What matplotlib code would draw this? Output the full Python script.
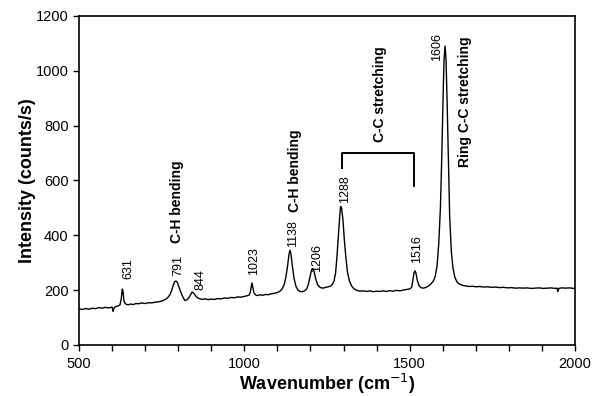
"""Raman spectrum with labelled bands (recreated figure)."""

import matplotlib
matplotlib.use("Agg")
import matplotlib.pyplot as plt
from matplotlib.ticker import MultipleLocator

plt.rcParams["font.family"] = ["Liberation Sans", "DejaVu Sans"]

# spectrum, as (wavenumber cm-1, intensity counts/s)
SEG_LOW = [
    (500, 132), (510, 129), (520, 133), (530, 130), (540, 134), (550, 132),
    (560, 136), (570, 134), (580, 137), (590, 135), (600, 138), (603, 122),
    (607, 137), (612, 140), (618, 142), (624, 146), (628, 170), (631, 204),
    (633, 196), (636, 160), (640, 150), (648, 146), (656, 149), (664, 147),
    (672, 151), (680, 150), (690, 153), (700, 151), (710, 154), (720, 153),
    (730, 156), (740, 157), (750, 160), (760, 165), (768, 172), (775, 183),
    (780, 198), (785, 218), (789, 230), (793, 233), (797, 229), (802, 212),
    (808, 192), (814, 175), (820, 162), (826, 164), (832, 172), (838, 184),
    (842, 193), (846, 190), (852, 180), (858, 172), (866, 168), (874, 166),
    (881, 168), (890, 165),
]
SEG_MID = [
    (900, 167), (910, 166), (920, 169), (930, 168), (940, 171), (950, 170),
    (960, 173), (970, 172), (980, 175), (990, 174), (1000, 177), (1008, 179),
    (1014, 181), (1018, 192), (1021, 212), (1023, 226), (1026, 208),
    (1029, 190), (1034, 182), (1040, 180), (1048, 183), (1056, 181),
    (1064, 184), (1072, 183), (1080, 186), (1090, 188), (1100, 191),
    (1108, 196), (1115, 205), (1121, 222), (1126, 250), (1131, 290),
    (1135, 330), (1138, 345), (1141, 332), (1145, 290), (1150, 245),
    (1156, 214), (1162, 200), (1168, 195), (1175, 194), (1182, 197),
    (1188, 203), (1193, 218), (1198, 245), (1203, 272), (1207, 279),
    (1211, 268), (1216, 240), (1222, 218), (1230, 209), (1238, 207),
    (1246, 210), (1254, 212), (1260, 214), (1266, 220), (1271, 232),
    (1276, 262), (1280, 320), (1284, 390), (1288, 460), (1291, 505),
    (1294, 500), (1298, 460), (1302, 390), (1307, 320), (1312, 265),
    (1318, 232), (1325, 214), (1332, 204),
]
SEG_HIGH = [
    (1340, 199), (1350, 196), (1360, 197), (1370, 195), (1380, 197),
    (1390, 194), (1400, 196), (1410, 195), (1420, 197), (1430, 195),
    (1440, 198), (1450, 196), (1460, 199), (1470, 197), (1480, 200),
    (1490, 202), (1500, 204), (1506, 210), (1510, 238), (1513, 262),
    (1516, 270), (1519, 262), (1523, 236), (1528, 217), (1534, 209),
    (1540, 207), (1548, 209), (1556, 214), (1564, 222), (1571, 232),
    (1577, 248), (1583, 290), (1588, 370), (1593, 500), (1597, 680),
    (1601, 900), (1604, 1040), (1607, 1090), (1610, 1040), (1613, 900),
    (1617, 680), (1621, 470), (1626, 340), (1631, 280), (1637, 245),
    (1644, 228), (1652, 221), (1660, 217), (1670, 215), (1680, 213),
    (1690, 214), (1700, 212), (1712, 213), (1724, 211), (1736, 212),
    (1748, 210), (1760, 211), (1772, 209), (1784, 210), (1796, 208),
    (1808, 209), (1820, 207), (1832, 208), (1844, 207), (1856, 208),
    (1868, 206), (1880, 207), (1892, 208), (1904, 206), (1916, 207),
    (1928, 208), (1940, 206), (1946, 207), (1948, 194), (1951, 206),
    (1960, 208), (1972, 207), (1984, 208), (1996, 206), (2000, 207),
]

PEAK_LABELS = ["631", "791", "844", "1023", "1138", "1206", "1288", "1516", "1606"]
BAND_LABELS = ["C-H bending", "C-H bending", "C-C stretching", "Ring C-C stretching"]

# annotation anchors (data coords, bottom of the rotated text)
PEAK_POS = [(650, 240), (800, 252), (866, 200), (1029, 255), (1147, 357),
            (1220, 266), (1304, 518), (1522, 299), (1584, 1036)]
BAND_POS = [(796, 372), (1154, 485), (1410, 740), (1667, 649)]
BRACKET_X = [1295, 1295, 1513, 1513]
BRACKET_Y = [645, 700, 700, 580]


def main():
    spectrum = SEG_LOW + SEG_MID + SEG_HIGH
    wn = [p[0] for p in spectrum]
    inten = [p[1] for p in spectrum]

    fig = plt.figure(figsize=(5.94, 3.96), dpi=100)
    ax = fig.add_axes([0.133, 0.129, 0.835, 0.831])

    ax.plot(wn, inten, color="black", lw=1.0)
    ax.plot(BRACKET_X, BRACKET_Y, color="black", lw=1.4)

    for txt, (x, y) in zip(PEAK_LABELS, PEAK_POS):
        ax.text(x, y, txt, rotation=90, ha="center", va="bottom", fontsize=9)
    for txt, (x, y) in zip(BAND_LABELS, BAND_POS):
        ax.text(x, y, txt, rotation=90, ha="center", va="bottom",
                fontsize=10, fontweight="bold")

    ax.set_xlim(500, 2000)
    ax.set_ylim(0, 1200)
    ax.xaxis.set_major_locator(MultipleLocator(500))
    ax.xaxis.set_minor_locator(MultipleLocator(100))
    ax.yaxis.set_major_locator(MultipleLocator(200))
    ax.tick_params(which="both", direction="out", length=4, width=1.0,
                   labelsize=10.5)
    ax.tick_params(axis="x", which="major", pad=5)
    for sp in ax.spines.values():
        sp.set_linewidth(1.2)

    ax.set_xlabel("Wavenumber (cm$^{-1}$)", fontsize=13, fontweight="bold",
                  labelpad=0)
    ax.set_ylabel("Intensity (counts/s)", fontsize=13, fontweight="bold",
                  labelpad=0)

    fig.savefig("out.png", dpi=100)
    plt.close(fig)


if __name__ == "__main__":
    main()
